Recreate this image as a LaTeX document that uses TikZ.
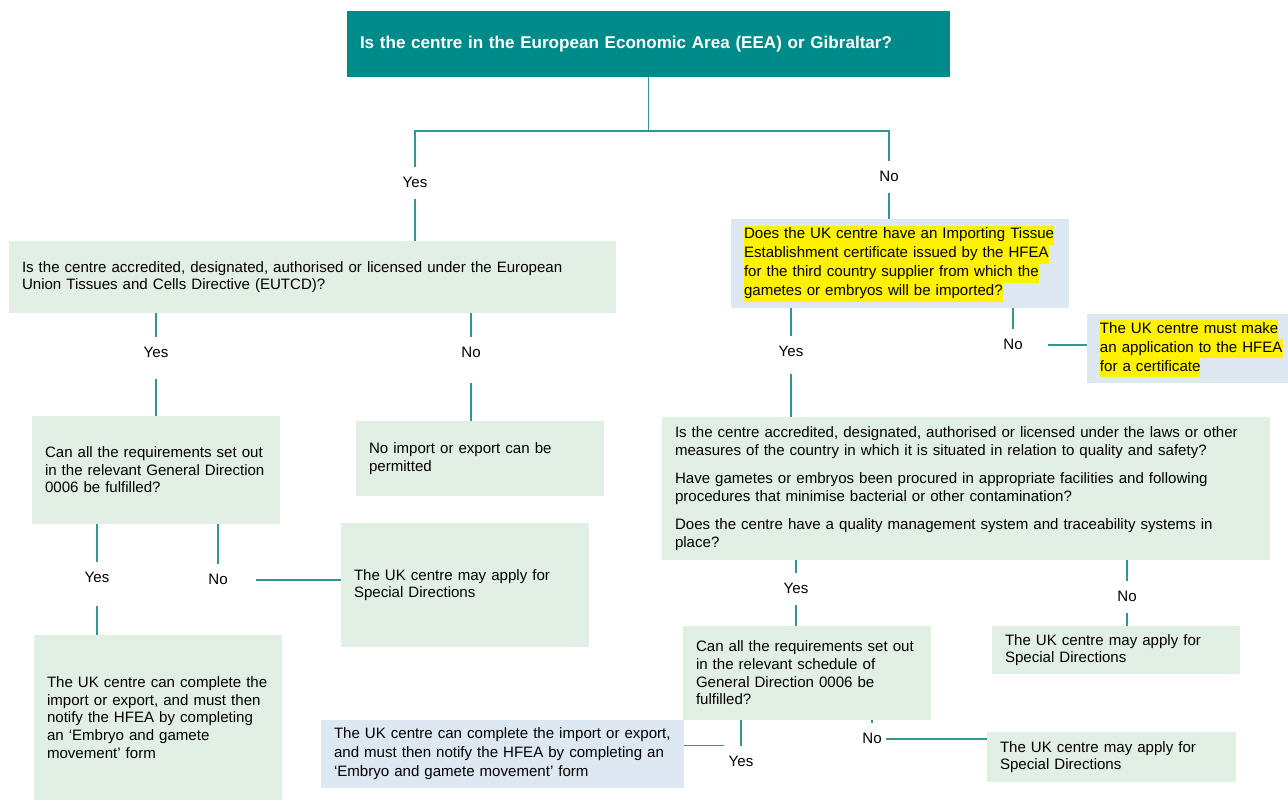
\documentclass[tikz,border=0pt]{standalone}
\usepackage{fontspec}
\setmainfont{Liberation Sans}
\definecolor{hfteal}{RGB}{0,139,139}
\definecolor{hfgreen}{RGB}{226,239,228}
\definecolor{hfblue}{RGB}{222,232,243}
\definecolor{hfline}{RGB}{50,150,150}
\setlength{\fboxsep}{0pt}
\newcommand{\marked}[1]{\colorbox{yellow}{\strut #1}}
\tikzset{
      card/.style = { rectangle, align=left, inner xsep=9.75pt, inner ysep=0pt,
                      font=\fontsize{11.3}{13.2}\selectfont },
  greenbox/.style = { card, fill=hfgreen },
   bluebox/.style = { card, fill=hfblue, font=\fontsize{11.3}{14.25}\selectfont },
   headbox/.style = { card, fill=hfteal, text=white,
                      font=\bfseries\fontsize{12.8}{15}\selectfont },
    answer/.style = { font=\fontsize{11.3}{13.2}\selectfont, text height=8.5pt,
                      text depth=2.5pt, inner xsep=3pt, inner ysep=6.5pt },
      link/.style = { line width=1pt, color=hfline }
}
\begin{document}
\begin{tikzpicture}[x=0.75pt, y=-0.75pt]
  \useasboundingbox (0,0) rectangle (1288,801);

  % questions and outcomes
  \node[headbox, text width=432.75pt, minimum height=49.5pt] (eea) at (648.5,44)
    {Is the centre in the European Economic Area (EEA) or Gibraltar?};
  \node[greenbox, text width=435.75pt, minimum height=54pt] (eutcd) at (312.5,277)
    {Is the centre accredited, designated, authorised or licensed under the European\\
     Union Tissues and Cells Directive (EUTCD)?};
  \node[bluebox, text width=234pt, minimum height=66.75pt] (itecert) at (900,263.5)
    {\marked{Does the UK centre have an Importing Tissue}\\
     \marked{Establishment certificate issued by the HFEA}\\
     \marked{for the third country supplier from which the}\\
     \marked{gametes or embryos will be imported?}};
  \node[bluebox, text width=140pt, minimum height=51.75pt] (mustapply) at (1193.3,348.5)
    {\marked{The UK centre must make}\\
     \marked{an application to the HFEA}\\
     \marked{for a certificate}};
  \node[greenbox, text width=166.5pt, minimum height=81pt] (gdone) at (156,470)
    {Can all the requirements set out\\
     in the relevant General Direction\\
     0006 be fulfilled?};
  \node[greenbox, text width=166.5pt, minimum height=56.25pt] (noimport) at (480,458.5)
    {No import or export can be\\
     permitted};
  \node[greenbox, text width=166.5pt, minimum height=93pt] (specone) at (465,585)
    {The UK centre may apply for\\
     Special Directions};
  \node[greenbox, text width=166.5pt, minimum height=123.75pt] (notifyone) at (158,717.5)
    {The UK centre can complete the\\
     import or export, and must then\\
     notify the HFEA by completing\\
     an ‘Embryo and gamete\\
     movement’ form};
  \node[greenbox, text width=436.5pt, minimum height=107.25pt] (thirdc) at (966,488.5)
    {Is the centre accredited, designated, authorised or licensed under the laws or other\\
     measures of the country in which it is situated in relation to quality and safety?\\[8pt]
     Have gametes or embryos been procured in appropriate facilities and following\\
     procedures that minimise bacterial or other contamination?\\[8pt]
     Does the centre have a quality management system and traceability systems in\\
     place?};
  \node[greenbox, text width=166.5pt, minimum height=70.5pt] (gdtwo) at (807,673)
    {Can all the requirements set out\\
     in the relevant schedule of\\
     General Direction 0006 be\\
     fulfilled?};
  \node[greenbox, text width=166.5pt, minimum height=36pt] (spectwo) at (1116,650)
    {The UK centre may apply for\\
     Special Directions};
  \node[bluebox, text width=252.75pt, minimum height=51pt] (notifytwo) at (502.5,754)
    {The UK centre can complete the import or export,\\
     and must then notify the HFEA by completing an\\
     ‘Embryo and gamete movement’ form};
  \node[greenbox, text width=167.25pt, minimum height=37.5pt] (specthree) at (1111.5,757)
    {The UK centre may apply for\\
     Special Directions};

  % answers on the connectors
  \node[answer] (yes0) at (415,183) {Yes};
  \node[answer] (no0)  at (889,177) {No};
  \node[answer] (yes1) at (156,353) {Yes};
  \node[answer] (no1)  at (471,353) {No};
  \node[answer] (yes2) at (97,578)  {Yes};
  \node[answer] (no2)  at (218,580) {No};
  \node[answer] (yes3) at (791,352) {Yes};
  \node[answer] (no3)  at (1013,345) {No};
  \node[answer] (yes4) at (796,589) {Yes};
  \node[answer] (no4)  at (1127,597) {No};
  \node[answer] (yes5) at (741,762) {Yes};
  \node[answer] (no5)  at (872,739) {No};

  % connectors
  \coordinate (split) at (648.5,131);
  \draw[link] (eea) -- (split);
  \draw[link] (yes0.north) |- (split) -| (no0.north);
  \draw[link] (yes0.south) -- (eutcd.north -| yes0);
  \draw[link] (no0.south) -- (itecert.north -| no0);

  \foreach \from/\via/\to/\gap in {eutcd/yes1/gdone/7.5pt, eutcd/no1/noimport/10.5pt,
                                   gdone/yes2/notifyone/9pt, itecert/yes3/thirdc/4pt,
                                   thirdc/yes4/gdtwo/0pt, thirdc/no4/spectwo/0pt} {
    \draw[link] (\from.south -| \via) -- (\via.north);
    \draw[link, shorten <=\gap] (\via.south) -- (\to.north -| \via);
  }
  \foreach \from/\via in {gdone/no2, itecert/no3, gdtwo/yes5, gdtwo/no5}
    \draw[link] (\from.south -| \via) -- (\via.north);

  \draw[link, shorten <=18pt] (no2.east) -- (specone.west |- no2.east);
  \draw[link, shorten <=16pt] (no3.east) -- (mustapply.west |- no3.east);
  \draw[link] (yes5.north west) -- (notifytwo.east |- yes5.north west);
  \draw[link] (no5.east) -- (specthree.west |- no5.east);
\end{tikzpicture}
\end{document}
